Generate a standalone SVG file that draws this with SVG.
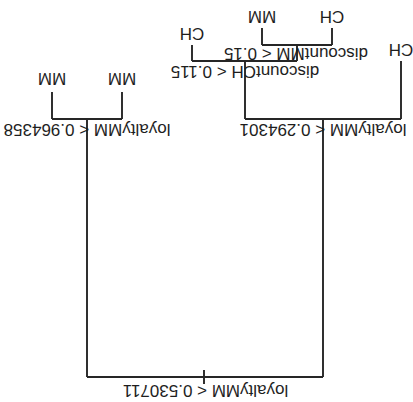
<svg xmlns="http://www.w3.org/2000/svg" width="413" height="402" viewBox="0 0 413 402">
<style>
.c{fill:none;stroke:#262626;stroke-width:1.9;stroke-linecap:butt}
text{font-family:"Liberation Sans",Arial,sans-serif;font-size:17px;fill:#1e1e1e;text-anchor:middle}
</style>
<rect width="413" height="402" fill="#fff"/>
<g id="connectors">
<path class="c" d="M87 377H323M204 370V384M87 377V119M323 377V119"/>
<path class="c" d="M52 119H122M52 119V92M122 119V92"/>
<path class="c" d="M245 119H401M401 119V61M245 119V61"/>
<path class="c" d="M192 61H297M192 61V45M297 61V45"/>
<path class="c" d="M262 45H332M262 45V28M332 45V28"/>
</g>
<g id="n1"><text x="205.5" y="385" transform="rotate(180 205.5 385)">loyaltyMM &lt; 0.530711</text></g>
<g id="n2"><text x="87" y="124" transform="rotate(180 87 124)">loyaltyMM &lt; 0.964358</text></g>
<g id="n3"><text x="323" y="124" transform="rotate(180 323 124)">loyaltyMM &lt; 0.294301</text></g>
<g id="n4"><text x="52" y="73" transform="rotate(180 52 73)">MM</text></g>
<g id="n5"><text x="122" y="73" transform="rotate(180 122 73)">MM</text></g>
<g id="n6"><text x="245" y="66" transform="rotate(180 245 66)">discountCH &lt; 0.115</text></g>
<g id="n7"><text x="401" y="44" transform="rotate(180 401 44)">CH</text></g>
<g id="n8"><text x="192" y="28" transform="rotate(180 192 28)">CH</text></g>
<g id="n9"><text x="296" y="48" transform="rotate(180 296 48)">discountMM &lt; 0.15</text></g>
<g id="n10"><text x="262" y="11" transform="rotate(180 262 11)">MM</text></g>
<g id="n11"><text x="332" y="11" transform="rotate(180 332 11)">CH</text></g>
</svg>
